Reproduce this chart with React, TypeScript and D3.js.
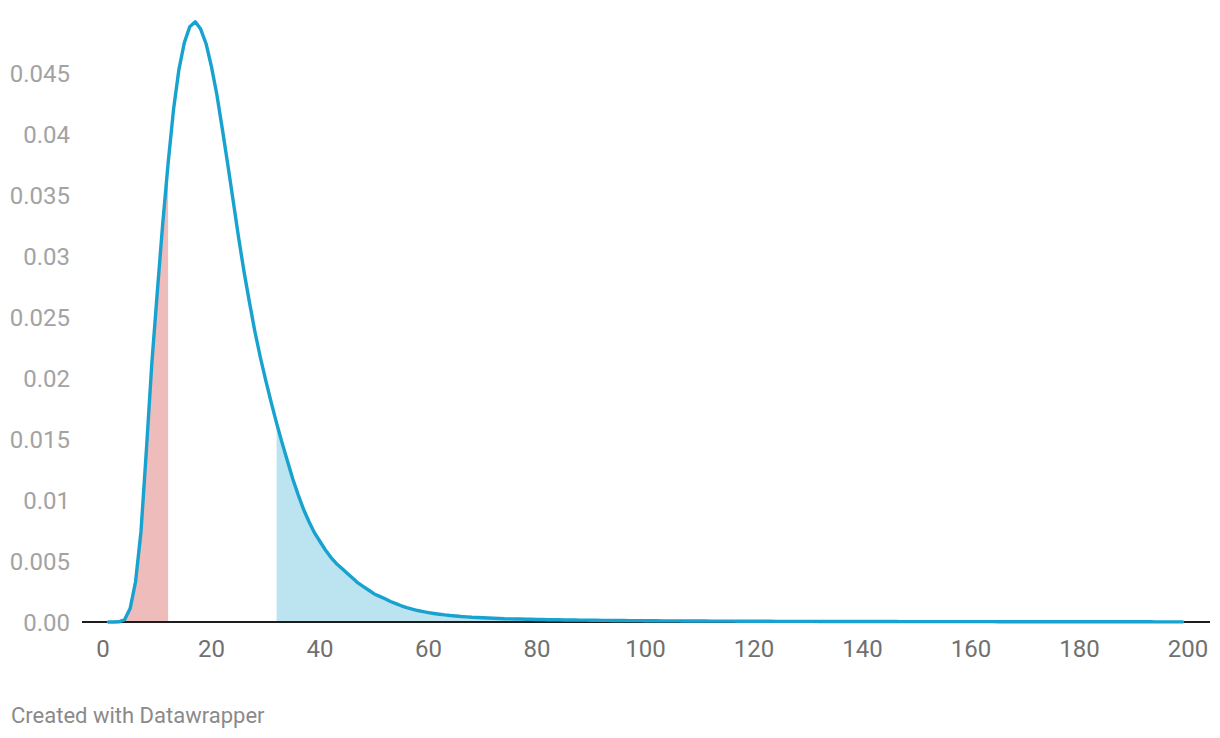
import React from "react";
import * as d3 from "d3";

// density values, one per integer x starting at X_START
const X_START = 1;
const density: number[] = [
  // 1-10
  0.0, 0.0, 0.00002, 0.0002, 0.0011, 0.0033, 0.0074, 0.0141, 0.0212, 0.0270,
  // 11-20
  0.0326, 0.0376, 0.0420, 0.0453, 0.0475, 0.0488, 0.0492, 0.0486, 0.0474, 0.0455,
  // 21-30
  0.0432, 0.0404, 0.0375, 0.0345, 0.0315, 0.0287, 0.0262, 0.0238, 0.0217, 0.0198,
  // 31-40
  0.0180, 0.0163, 0.0147, 0.0132, 0.0117, 0.0104, 0.0092, 0.0082, 0.0073, 0.0066,
  // 41-50
  0.0059, 0.0053, 0.0048, 0.0044, 0.0040, 0.0036, 0.0032, 0.0029, 0.0026, 0.0023,
  // 51-60
  0.0021, 0.0019, 0.00168, 0.0015, 0.00133, 0.00118, 0.00105, 0.00094, 0.00085, 0.00077,
  // 61-70
  0.0007, 0.00064, 0.00058, 0.00053, 0.00049, 0.00045, 0.00042, 0.00039, 0.00037, 0.00035,
  // 71-80
  0.00033, 0.00031, 0.00029, 0.00027, 0.00026, 0.00025, 0.00024, 0.00023, 0.00022, 0.00021,
  // 81-90
  0.0002, 0.00019, 0.00018, 0.00018, 0.00017, 0.00016, 0.00016, 0.00015, 0.00015, 0.00014,
  // 91-100
  0.00014, 0.00013, 0.00013, 0.00012, 0.00012, 0.00012, 0.00011, 0.00011, 0.00011, 0.0001,
  // 101-110
  0.0001, 0.0001, 0.00009, 0.00009, 0.00009, 0.00009, 0.00008, 0.00008, 0.00008, 0.00008,
  // 111-120
  0.00008, 0.00007, 0.00007, 0.00007, 0.00007, 0.00007, 0.00006, 0.00006, 0.00006, 0.00006,
  // 121-130
  0.00006, 0.00006, 0.00006, 0.00005, 0.00005, 0.00005, 0.00005, 0.00005, 0.00005, 0.00005,
  // 131-140
  0.00005, 0.00004, 0.00004, 0.00004, 0.00004, 0.00004, 0.00004, 0.00004, 0.00004, 0.00004,
  // 141-150
  0.00004, 0.00004, 0.00004, 0.00004, 0.00004, 0.00004, 0.00003, 0.00003, 0.00003, 0.00003,
  // 151-160
  0.00003, 0.00003, 0.00003, 0.00003, 0.00003, 0.00003, 0.00003, 0.00003, 0.00003, 0.00003,
  // 161-170
  0.00003, 0.00003, 0.00003, 0.00003, 0.00002, 0.00002, 0.00002, 0.00002, 0.00002, 0.00002,
  // 171-180
  0.00002, 0.00002, 0.00002, 0.00002, 0.00002, 0.00002, 0.00002, 0.00002, 0.00002, 0.00002,
  // 181-190
  0.00002, 0.00002, 0.00002, 0.00002, 0.00002, 0.00002, 0.00002, 0.00002, 0.00002, 0.00002,
  // 191-199
  0.00002, 0.00002, 0.00002, 0.00001, 0.00001, 0.00001, 0.00001, 0.00001, 0.00001,
];

// shaded ranges
const lowerTailEnd = 12;
const upperTailStart = 32;

const xTicks = [0, 20, 40, 60, 80, 100, 120, 140, 160, 180, 200];
const yTickValues = [0, 0.005, 0.01, 0.015, 0.02, 0.025, 0.03, 0.035, 0.04, 0.045];
const yTickLabels = ["0.00", "0.005", "0.01", "0.015", "0.02", "0.025", "0.03", "0.035", "0.04", "0.045"];
const footer = "Created with Datawrapper";

const W = 1220;
const H = 738;

type Pt = { x: number; y: number };

export default function App() {
  const data: Pt[] = density.map((y, i) => ({ x: X_START + i, y }));

  const x = d3.scaleLinear().domain([0, 200]).range([103, 1188]);
  const y = d3.scaleLinear().domain([0, 0.05]).range([622, 12]);

  const line = d3
    .line<Pt>()
    .x((d) => x(d.x))
    .y((d) => y(d.y));
  const area = d3
    .area<Pt>()
    .x((d) => x(d.x))
    .y0(y(0))
    .y1((d) => y(d.y));

  const lower = data.filter((d) => d.x <= lowerTailEnd);
  const upper = data.filter((d) => d.x >= upperTailStart);

  const font = "Roboto, 'Noto Sans', sans-serif";

  return (
    <svg
      width={W}
      height={H}
      style={{ position: "absolute", left: 0, top: 0, background: "#fff" }}
    >
      <path d={area(lower) || ""} fill="#eebcbb" />
      <path d={area(upper) || ""} fill="#bbe3f0" />

      {yTickValues.map((v, i) => (
        <text
          key={v}
          x={70}
          y={y(v) + 8.5}
          textAnchor="end"
          fontFamily={font}
          fontSize={24}
          fill="#a3a3a3"
        >
          {yTickLabels[i]}
        </text>
      ))}

      {xTicks.map((t) => (
        <text
          key={t}
          x={x(t)}
          y={657}
          textAnchor="middle"
          fontFamily={font}
          fontSize={24}
          fill="#707070"
        >
          {t}
        </text>
      ))}

      <line x1={82} x2={1210} y1={y(0)} y2={y(0)} stroke="#1d1d1d" strokeWidth={2} />

      <path
        d={line(data) || ""}
        fill="none"
        stroke="#18a2cf"
        strokeWidth={3.4}
        strokeLinejoin="round"
        strokeLinecap="round"
      />

      <text x={11} y={722.5} fontFamily={font} fontSize={22} fill="#8a8a8a">
        {footer}
      </text>
    </svg>
  );
}
